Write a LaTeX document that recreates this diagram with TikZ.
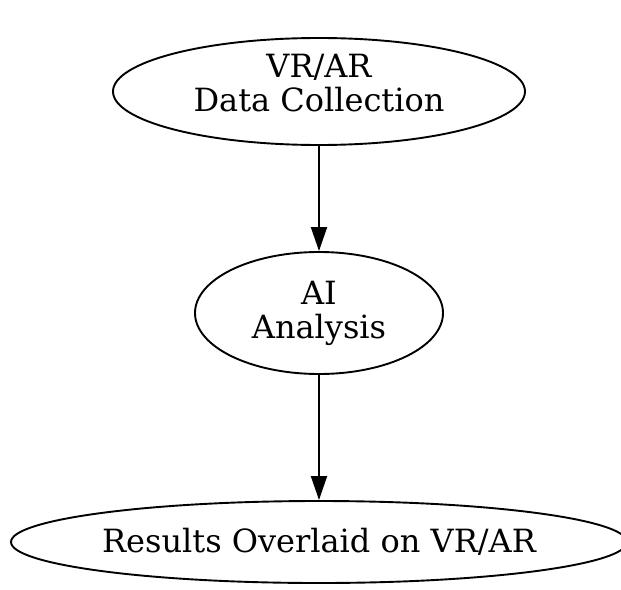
\documentclass[tikz,border=0pt]{standalone}
\usepackage{fontspec}
\setmainfont{DejaVu Serif}
\usepackage{xcolor}
\usetikzlibrary{arrows.meta,positioning,shapes.geometric}
\definecolor{ink}{HTML}{000000}
\tikzset{
  stagenode/.style={draw=ink, ellipse, line width=1.9pt, inner sep=0pt,
    align=center, text=ink, font=\fontsize{32}{34}\selectfont},
  flowarr/.style={-{Triangle[length=24pt,width=16pt]}, draw=ink, line width=1.9pt}
}

\begin{document}
\begin{tikzpicture}[x=1pt, y=1pt]
  \useasboundingbox (0,0) rectangle (621,-589);
  % Stages (top to bottom); the top label sits a little high
  \node[stagenode, minimum width=412pt, minimum height=107pt] (collect) at (319,-91.5) {VR/AR\\Data Collection\rule[-18pt]{0pt}{0pt}};
  \node[stagenode, minimum width=248pt, minimum height=122pt] (analysis) at (319,-313) {AI\\Analysis};
  \node[stagenode, minimum width=616pt, minimum height=82pt] (overlay) at (319,-542) {Results Overlaid on VR/AR};

  \draw[flowarr] (collect) -- (analysis);
  \draw[flowarr] (analysis) -- (overlay);
\end{tikzpicture}
\end{document}
